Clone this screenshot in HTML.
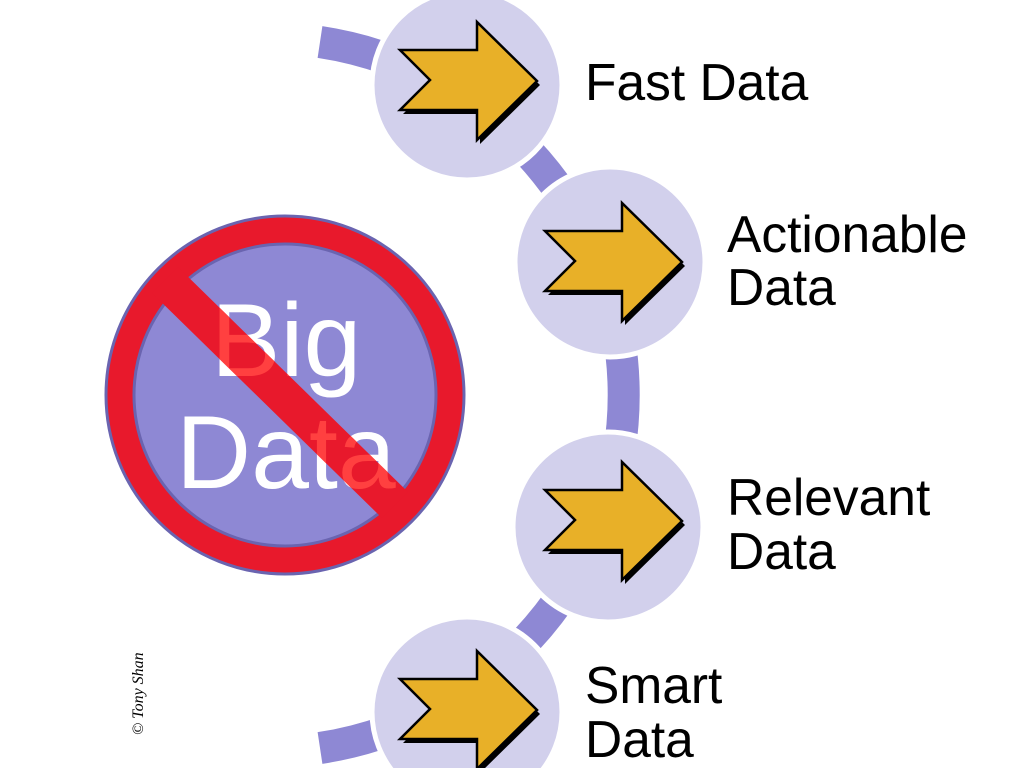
<!DOCTYPE html>
<html><head><meta charset="utf-8"><style>
html,body{margin:0;padding:0;background:#fff;overflow:hidden;width:1024px;height:768px;}
svg{display:block}
</style></head><body>
<svg width="1024" height="768" viewBox="0 0 1024 768" xmlns="http://www.w3.org/2000/svg">
<defs>
<g id="arr">
<path d="M-67,-35 L10,-35 L10,-63 L70,-4 L10,55 L10,25 L-67,25 L-37,-5 Z" fill="#000" transform="translate(3,4)"/>
<path d="M-67,-35 L10,-35 L10,-63 L70,-4 L10,55 L10,25 L-67,25 L-37,-5 Z" fill="#e8b028" stroke="#000" stroke-width="2.5" stroke-linejoin="miter"/>
</g>
<clipPath id="slash">
<line x1="165" y1="280" x2="395" y2="505" stroke="#000" stroke-width="36"/>
<polygon points="152,293 178,267 408,492 382,518"/>
</clipPath>
</defs>
<path d="M320,42 A357,357 0 0 1 320,748" fill="none" stroke="#8e88d4" stroke-width="32"/>
<g fill="#d2d0ec" stroke="#fff" stroke-width="5">
<circle cx="467" cy="85" r="95"/>
<circle cx="610" cy="262" r="95"/>
<circle cx="608" cy="527" r="95"/>
<circle cx="467" cy="712" r="95"/>
</g>
<use href="#arr" x="467" y="85"/>
<use href="#arr" x="612" y="266"/>
<use href="#arr" x="612" y="525"/>
<use href="#arr" x="467" y="714"/>
<g font-family="Liberation Sans, sans-serif" font-size="51.5" fill="#000">
<text x="585" y="100">Fast Data</text>
<text x="727" y="252">Actionable</text>
<text x="727" y="305">Data</text>
<text x="727" y="515">Relevant</text>
<text x="727" y="569">Data</text>
<text x="585" y="703">Smart</text>
<text x="585" y="757">Data</text>
</g>
<circle cx="285" cy="395" r="179" fill="#e8192c" stroke="#6a64b0" stroke-width="3"/>
<circle cx="285" cy="395" r="151" fill="#8e88d4" stroke="#6a64b0" stroke-width="3"/>
<g font-family="Liberation Sans, sans-serif" font-size="104" fill="#fff">
<text x="211" y="376">Big</text>
<text x="176" y="488">Data</text>
</g>
<polygon points="152,293 178,267 408,492 382,518" fill="#e8192c"/>
<g font-family="Liberation Sans, sans-serif" font-size="104" fill="#ff4040" clip-path="url(#slash)">
<text x="211" y="376">Big</text>
<text x="176" y="488">Data</text>
</g>
<text transform="translate(143,735) rotate(-90)" font-family="Liberation Serif, serif" font-style="italic" font-size="16" fill="#000">© Tony Shan</text>
</svg>
</body></html>
